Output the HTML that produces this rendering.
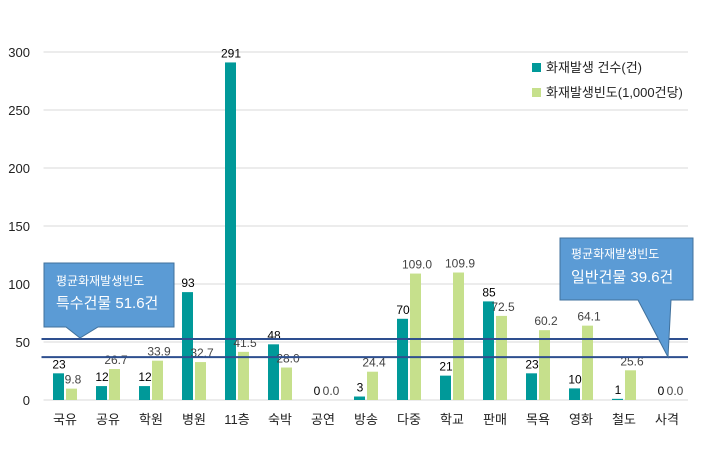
<!DOCTYPE html>
<html><head><meta charset="utf-8"><style>
body{margin:0;background:#fff;}
svg{font-family:"Liberation Sans","Noto Sans CJK KR",sans-serif;}
</style></head><body>
<svg id="chart" width="716" height="445"></svg>
<script>
const categories=["국유","공유","학원","병원","11층","숙박","공연","방송","다중","학교","판매","목욕","영화","철도","사격"];
const counts=[23,12,12,93,291,48,0,3,70,21,85,23,10,1,0];
const rates=[9.8,26.7,33.9,32.7,41.5,28.0,0.0,24.4,109.0,109.9,72.5,60.2,64.1,25.6,0.0];
const yTicks=[0,50,100,150,200,250,300];
const avgSpecial=52.6, avgGeneral=37.0;
const NS="http://www.w3.org/2000/svg";
const svg=document.getElementById("chart");
const x0=43.5, band=43, y0=400, ppu=1.16;
const y=v=>y0-v*ppu; const cx=i=>x0+band*i+band/2;
function mk(t,a,txt){const e=document.createElementNS(NS,t);for(const k in a)e.setAttribute(k,a[k]);if(txt!==undefined)e.textContent=txt;svg.appendChild(e);return e;}
yTicks.forEach(t=>{
 const g=mk("line",{x1:x0,x2:688,y1:y(t),y2:y(t),stroke:"#d9d9d9","stroke-width":1});
 
 
 const l=mk("text",{x:30,y:y(t)+5,"text-anchor":"end","font-size":13,fill:"#222"},t);
 
 
});
categories.forEach((c,i)=>{
 const b=mk("rect",{x:cx(i)-12,y:y(counts[i]),width:11,height:counts[i]*ppu,fill:"#009999"});
 
 
 const g=mk("rect",{x:cx(i)+1,y:y(rates[i]),width:11,height:rates[i]*ppu,fill:"#c6e08c"});
 
 
 const t1=mk("text",{x:cx(i)-6,y:y(counts[i])-5,"text-anchor":"middle","font-size":12,fill:"#000"},counts[i]);
 
 
 const t2=mk("text",{x:cx(i)+8,y:y(rates[i])-5,"text-anchor":"middle","font-size":12,fill:"#444"},rates[i].toFixed(1));
 
 
 const xl=mk("text",{x:cx(i),y:424,"text-anchor":"middle","font-size":13,fill:"#222"},c);
 
 
});
[avgSpecial,avgGeneral].forEach(v=>{
 const l=mk("line",{x1:x0-2,x2:688,y1:y(v),y2:y(v),stroke:"#2e4f8f","stroke-width":2});
 
 
});
// callouts
const c1=mk("path",{d:"M44,263 H174 V327 H98 L80,338 L66,327 H44 Z",fill:"#5b9bd5",stroke:"#41719c","stroke-width":1});


const c1a=mk("text",{x:56,y:285,"font-size":12,fill:"#fff"},"평균화재발생빈도");


const c1b=mk("text",{x:56,y:308,"font-size":15,fill:"#fff"},"특수건물  51.6건");


const c2=mk("path",{d:"M560,238 H693 V300 H671 L668,357 L638,300 H560 Z",fill:"#5b9bd5",stroke:"#41719c","stroke-width":1});


const c2a=mk("text",{x:571,y:258,"font-size":12,fill:"#fff"},"평균화재발생빈도");


const c2b=mk("text",{x:571,y:282,"font-size":15,fill:"#fff"},"일반건물  39.6건");


// legend
const lg1=mk("rect",{x:532,y:63,width:9,height:9,fill:"#009999"});


const lt1=mk("text",{x:546,y:72,"font-size":13,fill:"#222"},"화재발생 건수(건)");


const lg2=mk("rect",{x:532,y:88,width:9,height:9,fill:"#c6e08c"});


const lt2=mk("text",{x:546,y:97,"font-size":13,fill:"#222"},"화재발생빈도(1,000건당)");


</script>
</body></html>
